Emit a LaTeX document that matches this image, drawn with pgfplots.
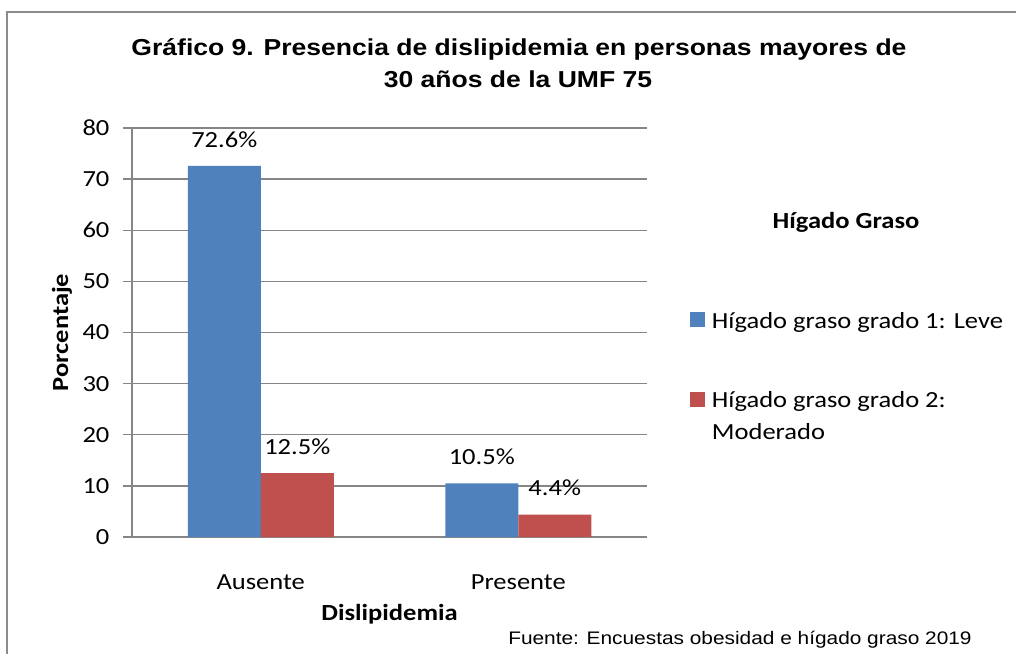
\documentclass[border=0pt]{standalone}
\usepackage{fontspec}
\setmainfont{Carlito}[FakeStretch=1.15]
\newfontfamily\arial{Liberation Sans}[FakeStretch=1.15]
\usepackage{pgfplots}
\pgfplotsset{compat=1.18}
\definecolor{cblue}{HTML}{4F81BD}
\definecolor{cred}{HTML}{C0504D}
\definecolor{cgrid}{HTML}{868686}
\definecolor{cframe}{HTML}{8C8C8C}
\pgfplotsset{sqlegend/.style={legend image code/.code={\fill[##1] (0pt,-4.5pt) rectangle (11.25pt,6.75pt);}}}
\begin{document}
\begin{tikzpicture}[x=0.75pt,y=0.75pt]
\useasboundingbox (0,0) rectangle (1016,653);
\draw[cframe, line width=1.5pt] (7,-10) -- (7,641) -- (1030,641);
\node[font=\arial\bfseries\fontsize{17.3}{20}\selectfont, anchor=base, inner sep=0pt] at (519,597) {Gráfico 9. Presencia de dislipidemia en personas mayores de};
\node[font=\arial\bfseries\fontsize{17.3}{20}\selectfont, anchor=base, inner sep=0pt] at (518,565) {30 años de la UMF 75};
\node[font=\arial\fontsize{13.6}{16}\selectfont, anchor=base west, inner sep=0pt] at (508,9) {Fuente: Encuestas obesidad e hígado graso 2019};
\node[font=\bfseries\fontsize{17.3}{20}\selectfont, anchor=base, inner sep=0pt] at (846,424) {Hígado Graso};
\begin{axis}[
  at={(99pt,87pt)}, anchor=south west, scale only axis,
  width=386.25pt, height=306.75pt,
  xmin=-0.5, xmax=1.5, ymin=0, ymax=80,
  ytick={0,10,...,80},
  xtick={0,1}, xticklabels={Ausente,Presente},
  ybar=0pt, bar width=54.75pt,
  axis x line*=bottom, axis y line*=left,
  x axis line style={-, cgrid, line width=1.1pt},
  y axis line style={-, cgrid, line width=1.1pt},
  ymajorgrids, major grid style={cgrid, line width=1.1pt},
  tick align=outside, major tick length=6.75pt,
  ytick style={cgrid, line width=1.1pt},
  xtick style={draw=none},
  /pgf/number format/assume math mode=true,
  tick label style={font=\fontsize{17.3}{20}\selectfont},
  yticklabel style={inner sep=0pt, anchor=east, xshift=-10pt},
  xticklabel style={inner sep=0pt, anchor=base, yshift=-32.25pt},
  xlabel={Dislipidemia}, ylabel={Porcentaje},
  label style={font=\bfseries\fontsize{17.3}{20}\selectfont},
  xlabel style={at={(axis description cs:0.5,-0.203)}, anchor=base, inner sep=0pt},
  ylabel style={at={(axis description cs:-0.124,0.5)}, anchor=base, inner sep=0pt},
  nodes near coords={\pgfmathprintnumber[fixed,fixed zerofill,precision=1]{\pgfplotspointmeta}\%},
  nodes near coords style={font=\fontsize{17.3}{20}\selectfont, anchor=base, inner sep=0pt, yshift=14pt},
  legend style={at={(axis description cs:1.0835,0.557)}, anchor=north west, draw=none, fill=none,
    inner sep=0pt, font=\fontsize{17.3}{24}\selectfont, row sep=42.25pt},
  legend cell align=left,
  /tikz/every odd column/.append style={column sep=3pt},
]
\addplot[fill=cblue, draw=none, sqlegend] coordinates {(0,72.6) (1,10.5)};
\addplot[fill=cred, draw=none, sqlegend] coordinates {(0,12.5) (1,4.4)};
\addlegendentry{Hígado graso grado 1: Leve}
\addlegendentry{\rlap{\smash{\vtop{\baselineskip=24pt\hbox{Hígado graso grado 2:}\hbox{Moderado}}}}\phantom{Hígado graso grado 2:}}
\end{axis}
\end{tikzpicture}
\end{document}
